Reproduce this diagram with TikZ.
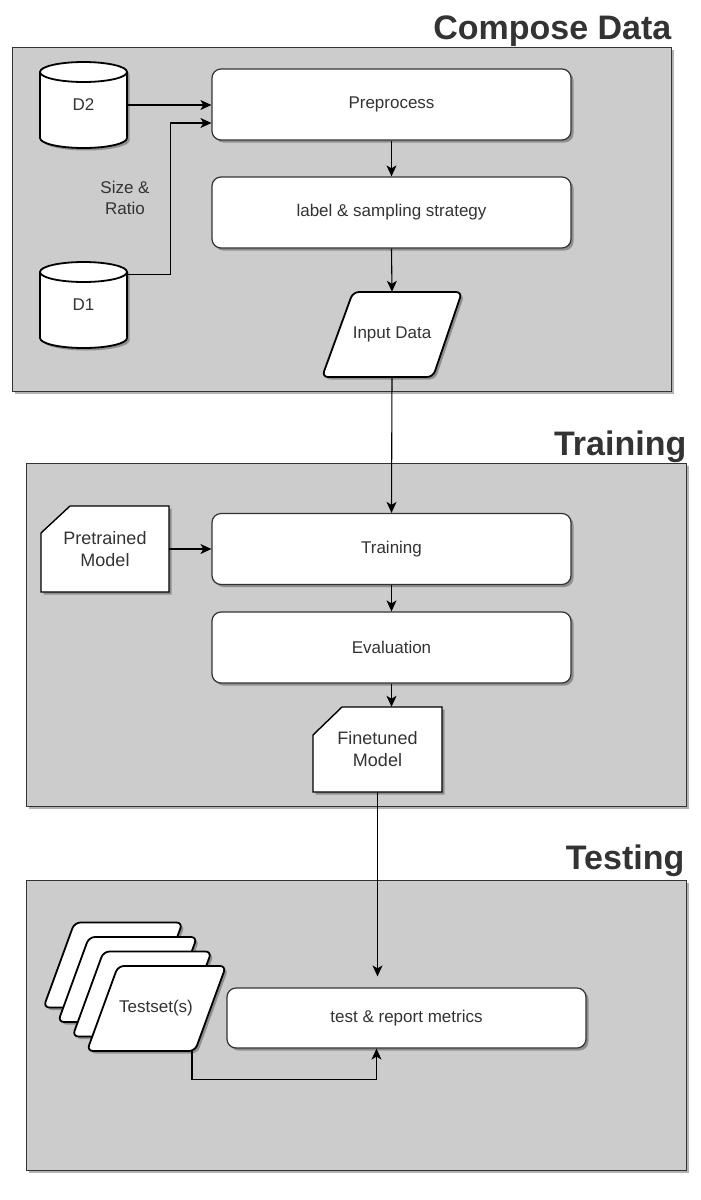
\documentclass[tikz,border=0pt]{standalone}
\usepackage{fontspec}
\setmainfont{Liberation Sans}
\usetikzlibrary{shadows,calc,arrows.meta}
\definecolor{panelgray}{HTML}{CCCCCC}
\definecolor{linec}{HTML}{333333}
\definecolor{txtc}{HTML}{333333}
\begin{document}
\begin{tikzpicture}[x=1pt,y=-1pt,
  shad/.style={drop shadow={shadow xshift=2.5pt,shadow yshift=-2.5pt,opacity=0.3,fill=black}},
  panel/.style={draw=linec,line width=1pt,fill=panelgray,inner sep=0,shad},
  title/.style={font=\fontsize{34}{38}\selectfont\bfseries,text=txtc,anchor=base east,inner sep=0},
  rbox/.style={draw=linec,line width=1.2pt,fill=white,rounded corners=9pt,minimum width=359pt,
    minimum height=71pt,font=\fontsize{17}{20}\selectfont,text=txtc,shad},
  solid shape/.style={draw=black,line width=1.8pt,fill=white,shad},
  card/.style={draw=black,line width=1.4pt,fill=white,shad},
  lbl/.style={text=txtc,font=\fontsize{17}{21}\selectfont,align=center,inner sep=0},
  cardlbl/.style={text=txtc,font=\fontsize{18}{22}\selectfont,align=center,inner sep=0},
  arr/.style={-{Stealth[length=11pt,width=10pt,inset=3pt]},line width=1.1pt,draw=black}
]
\useasboundingbox (0,0) rectangle (701,1200);

% ---------- panels ----------
\node[panel,minimum width=659pt,minimum height=344pt] (p1) at (341.5,219) {};
\node[panel,minimum width=660pt,minimum height=343pt] (p2) at (356,634.5) {};
\node[panel,minimum width=660pt,minimum height=290pt] (p3) at (356,1025) {};
\node[title] (t1) at (p1.north east |- 0,39) {Compose Data};
\node[title] (t2) at (p2.north east |- 0,455) {Training};
\node[title] (t3) at ($(p3.north east |- 0,869)+(-2,0)$) {Testing};

% ---------- cylinders ----------
\foreach \cx/\top/\bot in {83.5/62/148, 83.5/262/348}{
  \path[solid shape] (\cx-43.5,\top+10) -- (\cx-43.5,\bot-10)
    arc[start angle=180,end angle=360,x radius=43.5pt,y radius=10pt]
    -- (\cx+43.5,\top+10)
    arc[start angle=0,end angle=180,x radius=43.5pt,y radius=10pt] -- cycle;
  \draw[draw=black,line width=1.8pt] (\cx-43.5,\top+10)
    arc[start angle=180,end angle=360,x radius=43.5pt,y radius=10pt];
}
\node[lbl,minimum width=87pt,minimum height=86pt] (d2) at (83.5,105) {D2};
\node[lbl,minimum width=87pt,minimum height=86pt] (d1) at (83.5,305) {D1};

% ---------- compose data boxes ----------
\node[rbox] (pre) at (391.5,104.5) {Preprocess};
\node[rbox] (lab) at (391.5,212.5) {label \& sampling strategy};

% Input Data parallelogram
\coordinate (inpc) at (392,334.5);
\path[solid shape,rounded corners=6pt] ($(inpc)+(-39,-42.5)$) -- ($(inpc)+(70,-42.5)$)
  -- ($(inpc)+(41,42.5)$) -- ($(inpc)+(-70,42.5)$) -- cycle;
\node[lbl,minimum width=110pt,minimum height=85pt] (inp) at (inpc) {Input Data};

\node[lbl] (sr) at (125,198) {Size \&\\Ratio};

% ---------- training panel ----------
\node[rbox] (train) at (391.5,549) {Training};
\node[rbox] (eval) at (391.5,647.5) {Evaluation};

\coordinate (pmc) at (105,549);
\path[card] ($(pmc)+(-64,-16)$) -- ($(pmc)+(-35,-43)$) -- ($(pmc)+(64,-43)$)
  -- ($(pmc)+(64,43)$) -- ($(pmc)+(-64,43)$) -- cycle;
\node[cardlbl,minimum width=128pt,minimum height=86pt] (pm) at (pmc) {Pretrained\\Model};

\coordinate (fmc) at (377.5,749.5);
\path[card] ($(fmc)+(-64.5,-14.5)$) -- ($(fmc)+(-35.5,-42.5)$) -- ($(fmc)+(64.5,-42.5)$)
  -- ($(fmc)+(64.5,42.5)$) -- ($(fmc)+(-64.5,42.5)$) -- cycle;
\node[cardlbl,minimum width=129pt,minimum height=85pt] (fm) at (fmc) {Finetuned\\Model};

% ---------- testing panel ----------
\node[rbox,minimum height=60pt] (test) at (406.5,1018) {test \& report metrics};

\coordinate (tsc) at (156,1008.5);
\foreach \k in {3,2,1,0}{
  \path[solid shape,rounded corners=6pt]
    ($(tsc)+(-38-14.5*\k,-42.5-14.5*\k)$) -- ($(tsc)+(70-14.5*\k,-42.5-14.5*\k)$)
    -- ($(tsc)+(39-14.5*\k,42.5-14.5*\k)$) -- ($(tsc)+(-69-14.5*\k,42.5-14.5*\k)$) -- cycle;
}
\node[lbl,minimum width=108pt,minimum height=85pt] (ts) at (tsc) {Testset(s)};

% ---------- connectors ----------
\draw[arr] (d2.east) -- (pre.west |- d2.east);
\coordinate (d1out) at ($(d1.north east)+(0,13)$);
\coordinate (prein) at ($(pre.west)+(0,18.5)$);
\draw[arr] (d1out) -- ++(43,0) |- (prein);
\draw[arr] (pre.south) -- (lab.north);
\draw[arr] (lab.south) -- (inp.north);
\draw[arr] (inp.south) -- (train.north);
\draw[arr] (pm.east) -- (train.west |- pm.east);
\draw[arr] (train.south) -- (eval.north);
\draw[arr] (eval.south) -- (eval.south |- fm.north);
\coordinate (testtop) at ($(test.north -| fm.south)+(0,-11)$);
\draw[arr] (fm.south) -- (testtop);
\coordinate (tsout) at ($(ts.south)+(36,0)$);
\coordinate (testin) at ($(test.south)+(-30,0)$);
\draw[arr] (tsout) -- ++(0,28) -| (testin);
\end{tikzpicture}
\end{document}
